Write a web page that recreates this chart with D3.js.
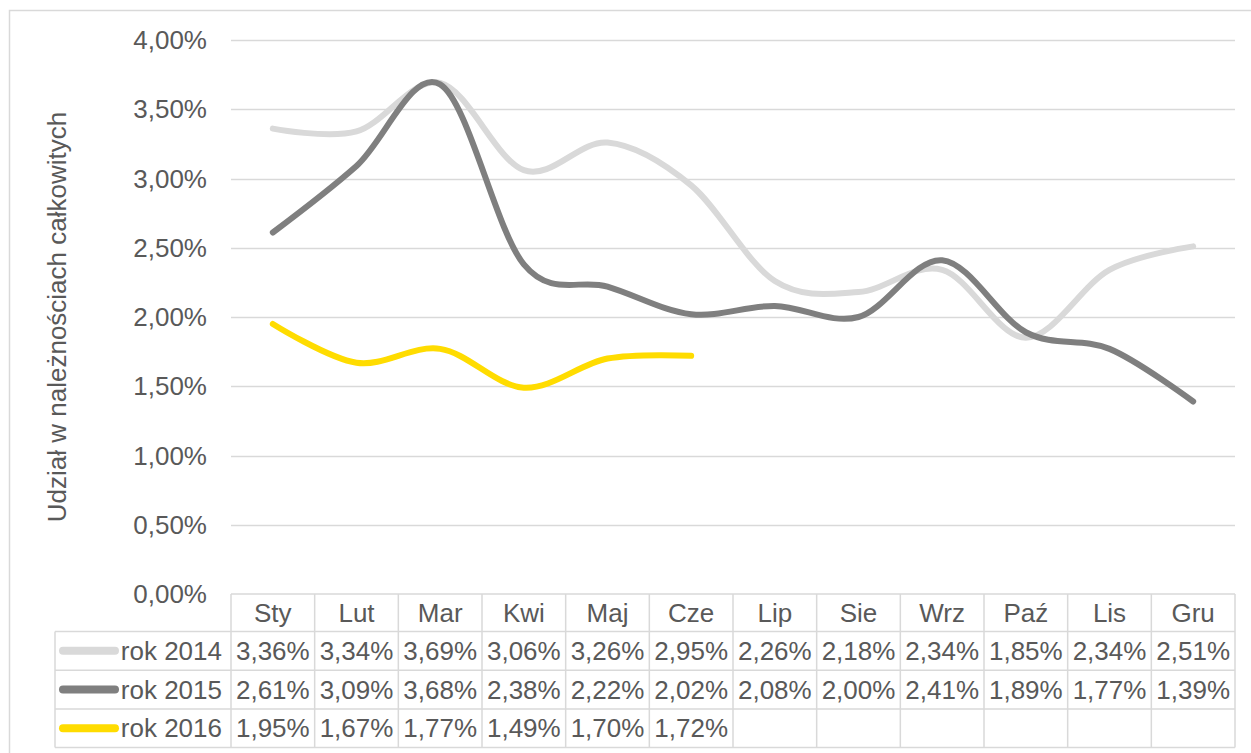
<!DOCTYPE html>
<html>
<head>
<meta charset="utf-8">
<script src="https://cdn.jsdelivr.net/npm/d3@7"></script>
<style>
  body { margin: 0; background: #fff; }
  text { font-family: "Liberation Sans", Arial, sans-serif; fill: #595959; }
</style>
</head>
<body>
<svg width="1251" height="753"></svg>
<script>
//dimensions of the picture
const SVG_WIDTH = 1251;
const SVG_HEIGHT = 753;

//months (category axis)
var months = ['Sty', 'Lut', 'Mar', 'Kwi', 'Maj', 'Cze', 'Lip', 'Sie', 'Wrz', 'Paź', 'Lis', 'Gru'];
//series names, shown in the data table
var seriesNames = ['rok 2014', 'rok 2015', 'rok 2016'];
//values in percent
var rok2014 = [3.36, 3.34, 3.69, 3.06, 3.26, 2.95, 2.26, 2.18, 2.34, 1.85, 2.34, 2.51];
var rok2015 = [2.61, 3.09, 3.68, 2.38, 2.22, 2.02, 2.08, 2.00, 2.41, 1.89, 1.77, 1.39];
var rok2016 = [1.95, 1.67, 1.77, 1.49, 1.70, 1.72];
//y ticks
var yTicks = [0, 0.5, 1, 1.5, 2, 2.5, 3, 3.5, 4];
var yTitle = 'Udział w należnościach całkowitych';

var colors = ['#d9d9d9', '#7f7f7f', '#ffdc00'];
var seriesValues = [rok2014, rok2015, rok2016];

var fmt = function(v) { return v.toFixed(2).replace('.', ',') + '%'; };

var svg = d3.select('svg');

//outer chart border (right and bottom are cut off in the picture)
svg.append('rect')
   .attr('x', 9.5).attr('y', 10.5)
   .attr('width', 1300).attr('height', 800)
   .attr('fill', 'none')
   .attr('stroke', '#d9d9d9')
   .attr('stroke-width', 1.5);

//scales
var x = d3.scaleBand()
          .domain(months)
          .range([231, 1235]);

var y = d3.scaleLinear()
          .domain([0, 4])
          .range([594, 40]);

//horizontal gridlines
svg.append('g')
   .selectAll('line')
   .data(yTicks.slice(1))
   .enter()
   .append('line')
     .attr('x1', 231).attr('x2', 1235)
     .attr('y1', function(d) { return Math.round(y(d)) + 0.5; })
     .attr('y2', function(d) { return Math.round(y(d)) + 0.5; })
     .attr('stroke', '#d9d9d9')
     .attr('stroke-width', 1.5);

//y axis tick labels
svg.append('g')
   .selectAll('text')
   .data(yTicks)
   .enter()
   .append('text')
     .attr('x', 207)
     .attr('y', function(d) { return y(d) + 9; })
     .attr('text-anchor', 'end')
     .attr('font-size', 26)
     .text(fmt);

//y axis title
svg.append('text')
   .attr('transform', 'translate(66,' + y(2) + ') rotate(-90)')
   .attr('text-anchor', 'middle')
   .attr('font-size', 26)
   .text(yTitle);

//smoothed lines like excel
var line = d3.line()
             .x(function(d, i) { return x(months[i]) + x.bandwidth() / 2; })
             .y(function(d) { return y(d); })
             .curve(d3.curveCatmullRom.alpha(0));

svg.append('g')
   .selectAll('path')
   .data(seriesValues)
   .enter()
   .append('path')
     .attr('d', function(d) { return line(d); })
     .attr('fill', 'none')
     .attr('stroke', function(d, i) { return colors[i]; })
     .attr('stroke-width', 6)
     .attr('stroke-linecap', 'round')
     .attr('stroke-linejoin', 'round');

//data table
var headTop = 594, headH = 37.5, rowH = 38.7, legendLeft = 55;
var table = svg.append('g')
               .attr('stroke', '#d9d9d9')
               .attr('stroke-width', 1.5);

//horizontal table lines
var hLines = [headTop, headTop + headH];
seriesNames.forEach(function(s, i) { hLines.push(headTop + headH + rowH * (i + 1)); });
hLines.forEach(function(yy, i) {
    table.append('line')
         .attr('x1', i == 0 ? 231 : legendLeft).attr('x2', 1235)
         .attr('y1', yy).attr('y2', yy);
});
var tableBottom = hLines[hLines.length - 1];

//vertical table lines
var vLines = months.map(function(m) { return x(m); }).concat([1235]);
vLines.forEach(function(xx) {
    table.append('line')
         .attr('x1', xx).attr('x2', xx)
         .attr('y1', headTop).attr('y2', tableBottom);
});
table.append('line')
     .attr('x1', legendLeft).attr('x2', legendLeft)
     .attr('y1', headTop + headH).attr('y2', tableBottom);

//header labels
svg.append('g')
   .selectAll('text')
   .data(months)
   .enter()
   .append('text')
     .attr('x', function(d) { return x(d) + x.bandwidth() / 2; })
     .attr('y', headTop + headH / 2 + 9.5)
     .attr('text-anchor', 'middle')
     .attr('font-size', 26)
     .text(function(d) { return d; });

//rows: legend key, name and values
seriesNames.forEach(function(name, i) {
    var cy = headTop + headH + rowH * i + rowH / 2;
    svg.append('line')
       .attr('x1', 63).attr('x2', 115)
       .attr('y1', cy).attr('y2', cy)
       .attr('stroke', colors[i])
       .attr('stroke-width', 8)
       .attr('stroke-linecap', 'round');
    svg.append('text')
       .attr('x', 222)
       .attr('y', cy + 9)
       .attr('text-anchor', 'end')
       .attr('font-size', 26)
       .text(name);
    svg.append('g')
       .selectAll('text')
       .data(seriesValues[i])
       .enter()
       .append('text')
         .attr('x', function(d, j) { return x(months[j]) + x.bandwidth() / 2; })
         .attr('y', cy + 9)
         .attr('text-anchor', 'middle')
         .attr('font-size', 26)
         .text(fmt);
});
</script>
</body>
</html>
